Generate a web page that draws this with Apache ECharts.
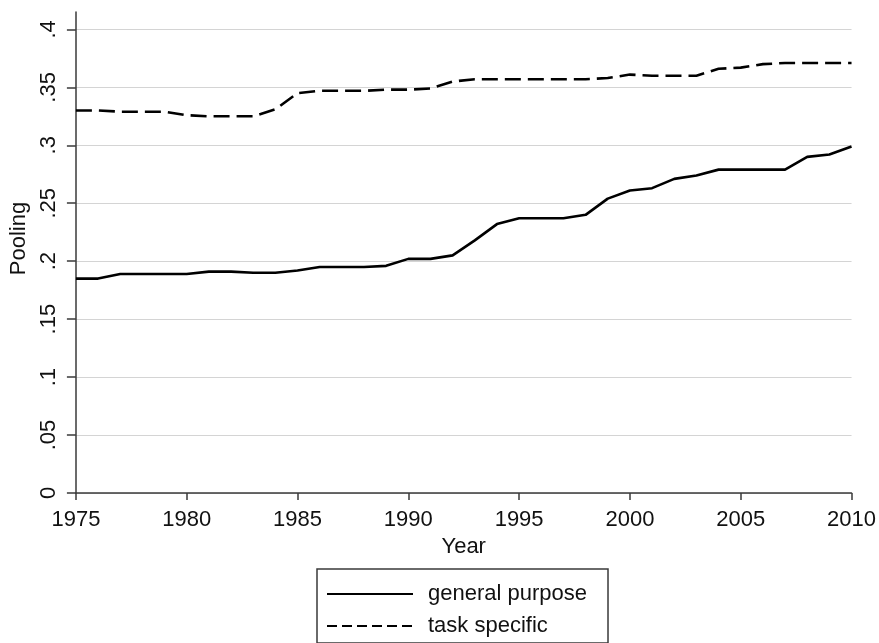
<!DOCTYPE html>
<html>
<head>
<meta charset="utf-8">
<script src="https://cdn.jsdelivr.net/npm/echarts@6/dist/echarts.min.js"></script>
<style>html,body{margin:0;padding:0;background:#fff;}#c{width:879px;height:643px;}</style>
</head>
<body>
<div id="c"></div>
<script>
var years = [1975,1976,1977,1978,1979,1980,1981,1982,1983,1984,1985,1986,1987,1988,1989,1990,1991,1992,1993,1994,1995,1996,1997,1998,1999,2000,2001,2002,2003,2004,2005,2006,2007,2008,2009,2010];
var generalPurpose = [0.185,0.185,0.189,0.189,0.189,0.189,0.191,0.191,0.190,0.190,0.192,0.195,0.195,0.195,0.196,0.202,0.202,0.205,0.218,0.232,0.237,0.237,0.237,0.240,0.254,0.261,0.263,0.271,0.274,0.279,0.279,0.279,0.279,0.290,0.292,0.299];
var taskSpecific = [0.330,0.330,0.329,0.329,0.329,0.326,0.325,0.325,0.325,0.331,0.345,0.347,0.347,0.347,0.348,0.348,0.349,0.355,0.357,0.357,0.357,0.357,0.357,0.357,0.358,0.361,0.360,0.360,0.360,0.366,0.367,0.370,0.371,0.371,0.371,0.371];
var yTicks = [0,0.05,0.1,0.15,0.2,0.25,0.3,0.35,0.4];
var yTickLabels = ['0','.05','.1','.15','.2','.25','.3','.35','.4'];
var seriesNames = ['general purpose','task specific'];

function pairs(vals){ return years.map(function(y,i){ return [y, vals[i]]; }); }
var FONT = 'Liberation Sans';
var chart = echarts.init(document.getElementById('c'), null, {renderer:'canvas'});
chart.setOption({
  backgroundColor:'#ffffff',
  animation:false,
  textStyle:{fontFamily:FONT},
  grid:{left:72, right:26, top:12, bottom:150, containLabel:false},
  xAxis:{
    type:'value', min:1975, max:2010, interval:5,
    name:'Year', nameLocation:'middle', nameGap:38,
    nameTextStyle:{fontFamily:FONT, fontSize:22, color:'#111'},
    axisLine:{show:true, onZero:false, lineStyle:{color:'#3a3a3a', width:1.5}},
    axisTick:{show:true, length:7, lineStyle:{color:'#3a3a3a', width:1.5}},
    axisLabel:{fontFamily:FONT, fontSize:22, color:'#111', margin:16,
      formatter:function(v){ return String(v); }},
    splitLine:{show:false}
  },
  yAxis:{
    type:'value', min:0, max:0.415, interval:0.05,
    name:'Pooling', nameLocation:'middle', nameGap:40,
    nameTextStyle:{fontFamily:FONT, fontSize:22, color:'#111', padding:[0,0,0,28]},
    axisLine:{show:true, onZero:false, lineStyle:{color:'#3a3a3a', width:1.5}},
    axisTick:{show:true, length:9, customValues:yTicks, lineStyle:{color:'#3a3a3a', width:1.5}},
    axisLabel:{fontFamily:FONT, fontSize:22, color:'#111', margin:16, rotate:90,
      customValues:yTicks,
      formatter:function(v){ for (var i=0;i<yTicks.length;i++){ if (Math.abs(yTicks[i]-v)<1e-9) return yTickLabels[i]; } return ''; }},
    splitLine:{show:true, lineStyle:{color:'#d4d4d4', width:1.2}}
  },
  legend:{
    orient:'vertical', left:317, top:569,
    padding:[14,21,6,9], itemGap:10,
    itemWidth:86, itemHeight:14,
    borderColor:'#3a3a3a', borderWidth:1.5, borderRadius:0,
    backgroundColor:'#ffffff',
    itemStyle:{opacity:0},
    textStyle:{fontFamily:FONT, fontSize:22, color:'#111', padding:[0,0,0,10]},
    data:[
      {name:seriesNames[0]},
      {name:seriesNames[1], lineStyle:{type:[10,5]}}
    ]
  },
  series:[
    {name:seriesNames[0], type:'line', data:pairs(generalPurpose), symbol:'none', showSymbol:false,
      lineStyle:{color:'#000', width:2.6, type:'solid'}, itemStyle:{color:'#000'}},
    {name:seriesNames[1], type:'line', data:pairs(taskSpecific), symbol:'none', showSymbol:false,
      lineStyle:{color:'#000', width:2.6, type:[16,7]}, itemStyle:{color:'#000'}}
  ]
});
</script>
</body>
</html>
